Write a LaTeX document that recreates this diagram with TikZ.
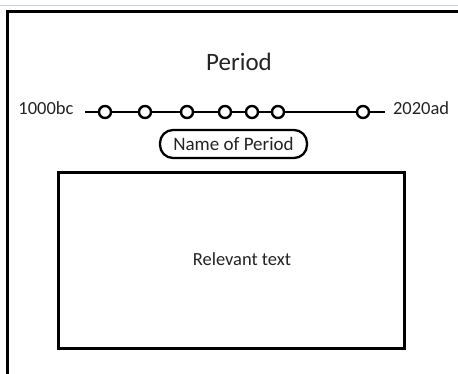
\documentclass[tikz,border=0pt]{standalone}
\usepackage{fontspec}
\setmainfont{Carlito}
\usetikzlibrary{positioning}
\definecolor{txtgray}{RGB}{35,35,35}
\definecolor{rulegray}{RGB}{200,208,220}
\tikzset{
  frame/.style = {line width=3pt},
  mark point/.style = {circle, draw, fill=white, line width=2.4pt, minimum size=12pt, inner sep=0pt},
  datelabel/.style = {text=txtgray, font=\fontsize{18.5}{22}\selectfont},
  namebox/.style = {draw, line width=2.3pt, rounded corners=13pt, minimum width=147pt, minimum height=28pt, inner sep=0pt, text=txtgray, font=\fontsize{19}{22}\selectfont},
  textbox/.style = {draw, line width=3pt, minimum width=346pt, minimum height=175pt, inner sep=0pt}
}
\begin{document}
\begin{tikzpicture}[x=1pt, y=-1pt]
\useasboundingbox (0,0) rectangle (458,374);
\draw[rulegray, line width=0.8pt] (0,5) -- (458,5);
\draw[frame] (458,12) -- (7,12) -- (7,374);

\node[text=txtgray, font=\fontsize{25}{30}\selectfont] (title) at (239,62) {Period};

% timeline
\coordinate (tstart) at (85,112);
\coordinate (tend) at (385,112);
\foreach \x [count=\i] in {105,145,187,225,252,278,363}
  \node[mark point] (c\i) at (\x,112) {};
\draw[line width=2.4pt] (tstart) -- (c1) -- (c2) -- (c3) -- (c4) -- (c5) -- (c6) -- (c7) -- (tend);
\node[datelabel, left=8pt of tstart, yshift=4pt] (from) {1000bc};
\node[datelabel, right=4.5pt of tend, yshift=4pt] (to) {2020ad};

\node[namebox] (name) at (233.5,144) {Name of Period};

\node[textbox] (body) at (231,260.5) {};
\node[datelabel] (bodytext) at (242,259) {Relevant text};
\end{tikzpicture}
\end{document}
